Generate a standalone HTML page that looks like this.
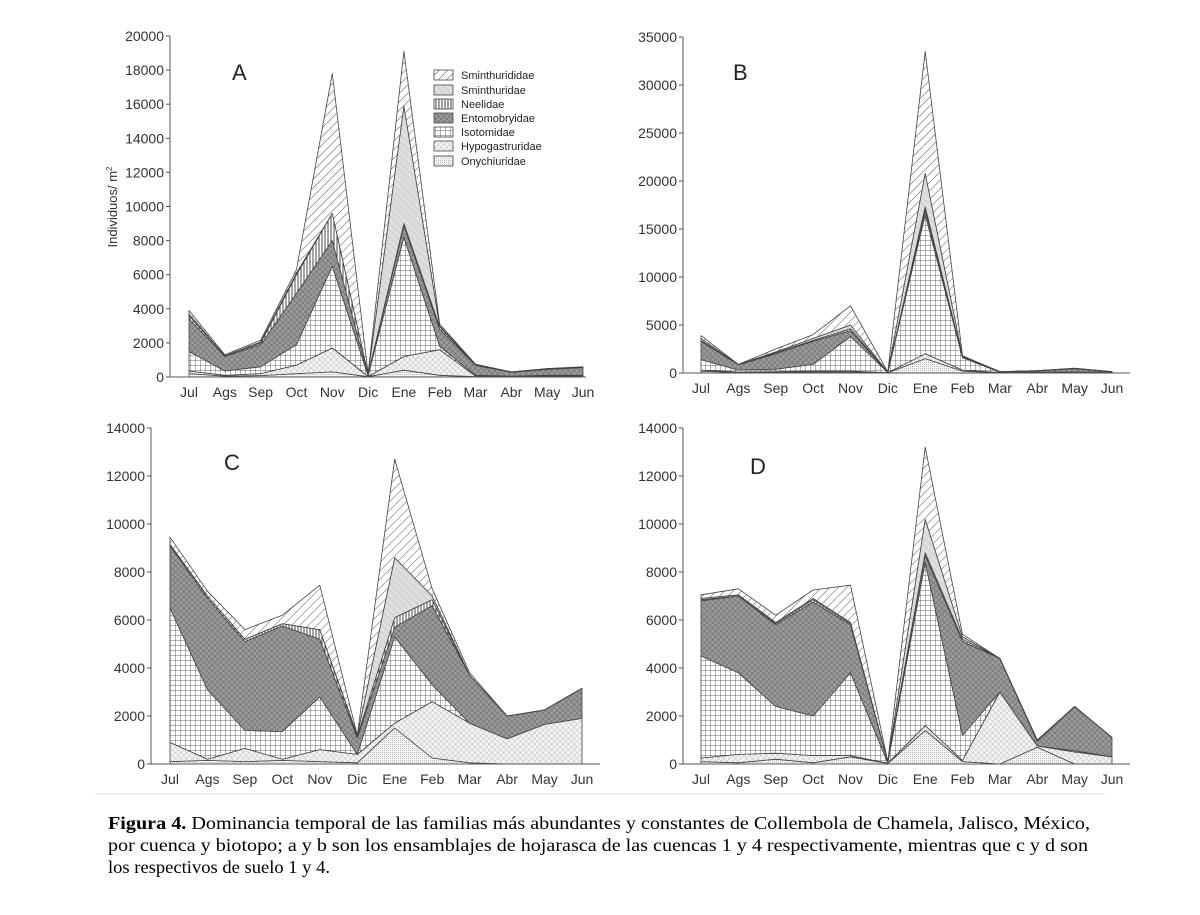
<!DOCTYPE html>
<html><head><meta charset="utf-8"><style>
body{margin:0;background:#fff;width:1200px;height:910px;overflow:hidden}
svg text{font-family:"Liberation Sans",Arial,sans-serif}
</style></head><body>
<svg id="fig" width="1200" height="910" xmlns="http://www.w3.org/2000/svg">
<defs>
<pattern id="p-smd" width="6" height="6" patternUnits="userSpaceOnUse" patternTransform="rotate(45)"><rect width="6" height="6" fill="#fff"/><line x1="0" y1="0" x2="0" y2="6" stroke="#555" stroke-width="1"/></pattern>
<pattern id="p-smt" width="5" height="5" patternUnits="userSpaceOnUse" patternTransform="rotate(-45)"><rect width="5" height="5" fill="#d8d8d8"/><line x1="0" y1="0" x2="0" y2="5" stroke="#f2f2f2" stroke-width="1.2"/></pattern>
<pattern id="p-nee" width="3" height="3" patternUnits="userSpaceOnUse"><rect width="3" height="3" fill="#fff"/><line x1="1" y1="0" x2="1" y2="3" stroke="#333" stroke-width="0.9"/></pattern>
<pattern id="p-ent" width="4" height="4" patternUnits="userSpaceOnUse" patternTransform="rotate(45)"><rect width="4" height="4" fill="#9a9a9a"/><line x1="0" y1="0" x2="4" y2="0" stroke="#666" stroke-width="1"/><line x1="0" y1="0" x2="0" y2="4" stroke="#666" stroke-width="1"/></pattern>
<pattern id="p-iso" width="5" height="5" patternUnits="userSpaceOnUse"><rect width="5" height="5" fill="#fff"/><line x1="0" y1="0" x2="5" y2="0" stroke="#444" stroke-width="0.8"/><line x1="0" y1="0" x2="0" y2="5" stroke="#444" stroke-width="0.8"/></pattern>
<pattern id="p-hyp" width="4" height="4" patternUnits="userSpaceOnUse" patternTransform="rotate(45)"><rect width="4" height="4" fill="#f4f4f4"/><line x1="0" y1="0" x2="4" y2="0" stroke="#aaa" stroke-width="0.7"/><line x1="0" y1="0" x2="0" y2="4" stroke="#aaa" stroke-width="0.7"/></pattern>
<pattern id="p-ony" width="2" height="2" patternUnits="userSpaceOnUse"><rect width="2" height="2" fill="#f6f6f6"/><rect width="1" height="1" fill="#bbb"/></pattern>
</defs>
<line x1="95" y1="794" x2="1105" y2="794" stroke="#ddd" stroke-width="1"/>
<text x="108" y="829" font-size="18" textLength="982" lengthAdjust="spacingAndGlyphs" style="font-family:'Liberation Serif',serif"><tspan font-weight="bold">Figura 4.</tspan> Dominancia temporal de las familias más abundantes y constantes de Collembola de Chamela, Jalisco, México,</text>
<text x="108" y="851" font-size="18" textLength="980" lengthAdjust="spacingAndGlyphs" style="font-family:'Liberation Serif',serif">por cuenca y biotopo; a y b son los ensamblajes de hojarasca de las cuencas 1 y 4 respectivamente, mientras que c y d son</text>
<text x="108" y="873" font-size="18" textLength="222" lengthAdjust="spacingAndGlyphs" style="font-family:'Liberation Serif',serif">los respectivos de suelo 1 y 4.</text>
</svg>
<script>
const months = ["Jul","Ags","Sep","Oct","Nov","Dic","Ene","Feb","Mar","Abr","May","Jun"];
const families = ["Onychiuridae","Hypogastruridae","Isotomidae","Entomobryidae","Neelidae","Sminthuridae","Sminthurididae"];
const patterns = ["p-ony","p-hyp","p-iso","p-ent","p-nee","p-smt","p-smd"];
// cumulative tops per family (bottom -> top), panel A
const aOny = [200,50,80,200,300,20,400,100,20,10,20,20];
const aHyp = [350,100,200,700,1700,30,1200,1600,50,30,50,50];
const aIso = [1500,350,600,1900,6500,80,8200,1800,100,50,100,100];
const aEnt = [3400,1200,1900,4900,8000,120,8900,2800,680,280,450,550];
const aNee = [3600,1250,2000,6000,9600,150,9000,2950,700,300,470,570];
const aSmt = [3700,1250,2050,6100,9600,150,15900,3000,720,300,480,580];
const aSmd = [3900,1300,2150,6300,17800,200,19100,3100,750,300,500,600];
// panel B
const bOny = [200,50,100,100,100,20,1500,200,30,30,30,20];
const bHyp = [300,100,150,200,200,30,2000,300,50,50,50,30];
const bIso = [1400,300,400,900,3800,50,16500,1600,80,100,100,80];
const bEnt = [3300,850,2000,3300,4400,70,17000,1700,130,230,450,130];
const bNee = [3400,870,2100,3400,4600,80,17300,1720,140,240,460,140];
const bSmt = [3600,880,2200,3600,5000,90,20800,1750,150,250,480,150];
const bSmd = [3900,900,2500,4000,7000,100,33500,1800,150,250,500,150];
// panel C
const cOny = [100,150,100,150,100,50,1500,250,50,0,0,0];
const cHyp = [900,200,650,200,600,400,1700,2600,1700,1050,1650,1900];
const cIso = [6500,3100,1400,1350,2800,400,5300,3300,1700,1050,1650,1900];
const cEnt = [9100,6900,5100,5750,5200,1100,5700,6600,3700,2000,2250,3150];
const cNee = [9150,7000,5200,5850,5600,1150,6100,6850,3700,2000,2250,3150];
const cSmt = [9150,7000,5200,5850,5600,1200,8600,7000,3700,2000,2250,3150];
const cSmd = [9450,7200,5600,6200,7450,1200,12700,7300,3800,2000,2250,3150];
// panel D
const dOny = [100,50,200,50,300,20,1400,100,0,700,0,0];
const dHyp = [250,400,450,350,350,30,1600,150,3000,750,500,300];
const dIso = [4500,3800,2400,2000,3800,50,8400,1200,3000,750,550,300];
const dEnt = [6800,7000,5800,6750,5800,100,8700,5100,4400,950,2400,1100];
const dNee = [6850,7000,5850,6850,5850,100,8800,5200,4400,950,2400,1100];
const dSmt = [6900,7050,5900,6900,5900,100,10200,5300,4400,1000,2400,1100];
const dSmd = [7050,7300,6200,7250,7450,100,13200,5400,4400,1000,2400,1100];
const ticksA = [0,2000,4000,6000,8000,10000,12000,14000,16000,18000,20000];
const ticksB = [0,5000,10000,15000,20000,25000,30000,35000];
const ticksCD = [0,2000,4000,6000,8000,10000,12000,14000];

const NS="http://www.w3.org/2000/svg";
const svg=document.getElementById('fig');
function mk(tag,attrs,parent){const e=document.createElementNS(NS,tag);for(const k in attrs)e.setAttribute(k,attrs[k]);(parent||svg).appendChild(e);return e;}

const panels=[
 {id:"a",letter:"A",layers:[aOny,aHyp,aIso,aEnt,aNee,aSmt,aSmd],ticks:ticksA,max:20000,ax:170,axEnd:586,y0:377,y1:36,x0:189,x1:583,lx:232,ly:80},
 {id:"b",letter:"B",layers:[bOny,bHyp,bIso,bEnt,bNee,bSmt,bSmd],ticks:ticksB,max:35000,ax:683,axEnd:1130,y0:373,y1:37,x0:701,x1:1112,lx:733,ly:80},
 {id:"c",letter:"C",layers:[cOny,cHyp,cIso,cEnt,cNee,cSmt,cSmd],ticks:ticksCD,max:14000,ax:151,axEnd:600,y0:764,y1:428,x0:170,x1:582,lx:224,ly:470},
 {id:"d",letter:"D",layers:[dOny,dHyp,dIso,dEnt,dNee,dSmt,dSmd],ticks:ticksCD,max:14000,ax:683,axEnd:1130,y0:764,y1:428,x0:701,x1:1112,lx:750,ly:474}
];

panels.forEach(p=>{
  const g=mk('g',{});
  
  
  const ys=v=>p.y0-(v/p.max)*(p.y0-p.y1);
  const xs=i=>p.x0+i*(p.x1-p.x0)/(months.length-1);
  for(let L=0;L<p.layers.length;L++){
    const top=p.layers[L];
    const bot=L>0?p.layers[L-1]:months.map(()=>0);
    let d='';
    top.forEach((v,i)=>{d+=(i?'L':'M')+xs(i).toFixed(1)+','+ys(v).toFixed(1);});
    for(let i=bot.length-1;i>=0;i--)d+='L'+xs(i).toFixed(1)+','+ys(bot[i]).toFixed(1);
    d+='Z';
    const a=mk('path',{d:d,fill:'url(#'+patterns[L]+')',stroke:'#444','stroke-width':'0.8','stroke-linejoin':'round'},g);
    
    
  }
  const ya=mk('line',{x1:p.ax,y1:p.y1,x2:p.ax,y2:p.y0,stroke:'#555','stroke-width':1},g);
  
  
  const xa=mk('line',{x1:p.ax,y1:p.y0,x2:p.axEnd,y2:p.y0,stroke:'#555','stroke-width':1},g);
  
  
  p.ticks.forEach(t=>{
    mk('line',{x1:p.ax-4,y1:ys(t),x2:p.ax,y2:ys(t),stroke:'#555'},g);
    const tl=mk('text',{x:p.ax-6,y:ys(t)+5,'font-size':14,'text-anchor':'end',fill:'#333'},g);
    tl.textContent=t;
    
    
  });
  months.forEach((m,i)=>{
    const tl=mk('text',{x:xs(i),y:p.y0+20,'font-size':14,'text-anchor':'middle',fill:'#333'},g);
    tl.textContent=m;
    
    
  });
  const lt=mk('text',{x:p.lx,y:p.ly,'font-size':22,fill:'#222'},g);
  lt.textContent=p.letter;
  
  
});

const yt=mk('text',{x:0,y:0,'font-size':13,fill:'#333','text-anchor':'middle',transform:'translate(117,207) rotate(-90)'});
yt.innerHTML='Individuos/ m<tspan font-size="8" dy="-5">2</tspan>';



const legRows=[75,90,104,118,132,146,161];
const order=[6,5,4,3,2,1,0];
const lg=mk('g',{});


order.forEach((L,k)=>{
  const e=mk('g',{},lg);
  
  
  mk('rect',{x:434,y:legRows[k]-5,width:19,height:10,fill:'url(#'+patterns[L]+')',stroke:'#444','stroke-width':0.8},e);
  const t=mk('text',{x:461,y:legRows[k]+4,'font-size':11,fill:'#222'},e);
  t.textContent=families[L];
});
</script>
</body></html>
